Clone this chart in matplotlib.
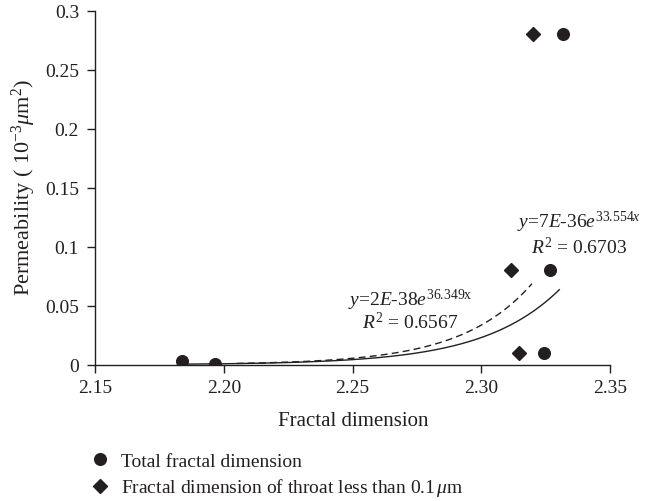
import numpy as np
import matplotlib
matplotlib.use("Agg")
import matplotlib.pyplot as plt

plt.rcParams['font.family'] = ['Liberation Serif', 'DejaVu Serif']
plt.rcParams['mathtext.fontset'] = 'custom'
plt.rcParams['mathtext.rm'] = 'Liberation Serif'
plt.rcParams['mathtext.it'] = 'Liberation Serif:italic'
plt.rcParams['mathtext.bf'] = 'Liberation Serif:bold'

# Data
total_x = [2.1839, 2.1967, 2.3242, 2.3267, 2.3319]
total_y = [0.0031, 0.0006, 0.010, 0.080, 0.280]
throat_x = [2.3146, 2.3116, 2.3202]
throat_y = [0.010, 0.080, 0.280]

# Exponential trend lines y = a * exp(b x)
total_fit = (7e-36, 33.554)
throat_fit = (1.65e-38, 36.349)
total_fit_range = (2.1839, 2.3305)
throat_fit_range = (2.2050, 2.3197)

xticks = [2.15, 2.20, 2.25, 2.30, 2.35]
xtick_labels = ['2.15', '2.20', '2.25', '2.30', '2.35']
yticks = [0, 0.05, 0.1, 0.15, 0.2, 0.25, 0.3]
ytick_labels = ['0', '0.05', '0.1', '0.15', '0.2', '0.25', '0.3']

ink = '#231f20'

fig = plt.figure(figsize=(6.63, 5.02), dpi=100)
ax = fig.add_axes([95/663, 1-365.7/502, (610-95)/663, (365.7-11.7)/502])

xs = np.linspace(*total_fit_range, 200)
ax.plot(xs, total_fit[0]*np.exp(total_fit[1]*xs), color=ink, lw=1.0, solid_capstyle='butt')
xs2 = np.linspace(*throat_fit_range, 200)
ax.plot(xs2, throat_fit[0]*np.exp(throat_fit[1]*xs2), color=ink, lw=1.0, dashes=(5, 3))

ax.plot(total_x, total_y, 'o', color=ink, ms=8.4, ls='none', label='Total fractal dimension')
ax.plot(throat_x, throat_y, 'D', color=ink, ms=7.0, ls='none',
        label=r'Fractal dimension of throat less than 0.1$\,\mu$m')

ax.set_xlim(2.15, 2.35)
ax.set_ylim(0, 0.3)
ax.set_xticks(xticks)
ax.set_xticklabels(xtick_labels)
ax.set_yticks(yticks)
ax.set_yticklabels(ytick_labels)
for s in ['top', 'right']:
    ax.spines[s].set_visible(False)
for s in ['left', 'bottom']:
    ax.spines[s].set_color(ink)
    ax.spines[s].set_linewidth(1.0)
ax.tick_params(direction='out', length=6, width=1.0, colors=ink, labelsize=14)
ax.tick_params(axis='x', pad=4)
ax.tick_params(axis='y', pad=5.5)

ax.set_xlabel('Fractal dimension', fontsize=15, color=ink)
ax.xaxis.set_label_coords(0.501, -0.13)
ax.set_ylabel(r'Permeability ( 10$^{-3}\mu$m$^{2}$)', fontsize=16, color=ink)
ax.yaxis.set_label_coords(-0.11, 0.505)

ax.text(2.3380, 0.1118, r'$y$=7$E$-36$e^{33.554x}$' + '\n' + r'$R^2$ = 0.6703',
        fontsize=14, color=ink, ha='center', va='center', multialignment='center', linespacing=1.1)
ax.text(2.2724, 0.0467, r'$y$=2$E$-38$e^{36.349\mathrm{x}}$' + '\n' + r'$R^2$ = 0.6567',
        fontsize=14, color=ink, ha='center', va='center', multialignment='center', linespacing=0.95)

leg = ax.legend(loc='upper left', bbox_to_anchor=(90/663, 1-453/502), bbox_transform=fig.transFigure,
                frameon=False, fontsize=14, handletextpad=0.6, labelspacing=0.35,
                handlelength=1.0, borderpad=0, borderaxespad=0)
for t in leg.get_texts():
    t.set_color(ink)

fig.savefig('out.png', dpi=100)
